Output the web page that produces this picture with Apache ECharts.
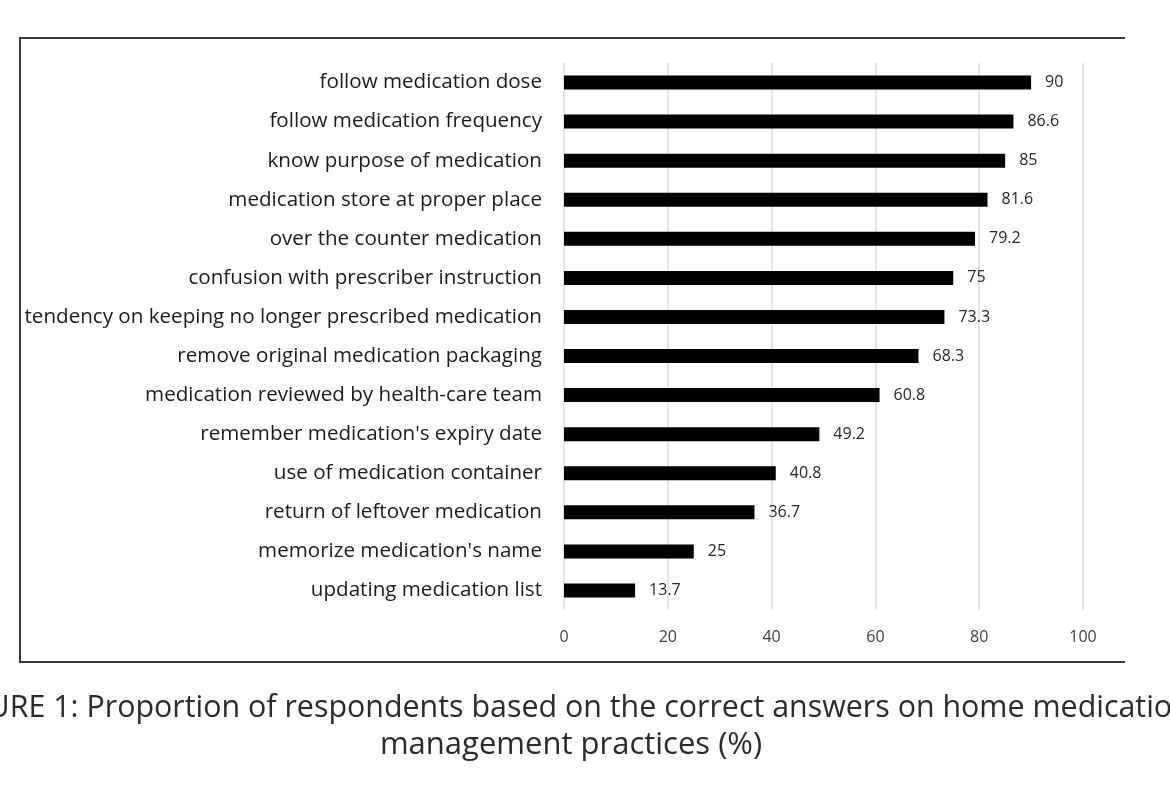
<!DOCTYPE html>
<html>
<head>
<meta charset="utf-8">
<script src="https://cdn.jsdelivr.net/npm/echarts@6/dist/echarts.min.js"></script>
<style>
html,body{margin:0;padding:0;background:#fff;}
#chart{width:1170px;height:800px;}
</style>
</head>
<body>
<div id="chart"></div>
<script>
const categories = [
  "follow medication dose",
  "follow medication frequency",
  "know purpose of medication",
  "medication store at proper place",
  "over the counter medication",
  "confusion with prescriber instruction",
  "tendency on keeping no longer prescribed medication",
  "remove original medication packaging",
  "medication reviewed by health-care team",
  "remember medication's expiry date",
  "use of medication container",
  "return of leftover medication",
  "memorize medication's name",
  "updating medication list"
];
const values = [90, 86.6, 85, 81.6, 79.2, 75, 73.3, 68.3, 60.8, 49.2, 40.8, 36.7, 25, 13.7];
const xTicks = [0, 20, 40, 60, 80, 100];
const captionLines = [
  "FIGURE 1: Proportion of respondents based on the correct answers on home medication",
  "management practices (%)"
];

const chart = echarts.init(document.getElementById('chart'), null, {renderer: 'canvas'});
const labelFont = '"Open Sans", sans-serif';
chart.setOption({
  backgroundColor: '#ffffff',
  animation: false,
  grid: {left: 564, right: 87, top: 63, bottom: 190, containLabel: false},
  xAxis: {
    type: 'value', min: xTicks[0], max: xTicks[xTicks.length - 1], interval: 20,
    axisLine: {show: false}, axisTick: {show: false},
    axisLabel: {margin: 19, fontSize: 16, color: '#404040', fontFamily: labelFont},
    splitLine: {show: true, lineStyle: {color: '#dcdcdc', width: 1.5}}
  },
  yAxis: {
    type: 'category', data: categories, inverse: true,
    axisLine: {show: false}, axisTick: {show: false},
    axisLabel: {margin: 22, fontSize: 20.6, color: '#1a1a1a', fontFamily: labelFont}
  },
  series: [{
    type: 'bar', data: values, barWidth: 14,
    itemStyle: {color: '#000000'},
    label: {show: true, position: 'right', distance: 14, fontSize: 16, color: '#262626', fontFamily: labelFont}
  }],
  graphic: [
    {type: 'polyline', shape: {points: [[1125, 38], [20, 38], [20, 662], [1125, 662]]},
     style: {stroke: '#3a3a3a', lineWidth: 2, fill: null}},
    {type: 'text', x: 566, y: 708, style: {text: captionLines[0], fill: '#2b2b2b', font: '30.4px "Open Sans", sans-serif', textAlign: 'center', textVerticalAlign: 'middle'}},
    {type: 'text', x: 571, y: 745, style: {text: captionLines[1], fill: '#2b2b2b', font: '31px "Open Sans", sans-serif', textAlign: 'center', textVerticalAlign: 'middle'}}
  ]
});
</script>
</body>
</html>
